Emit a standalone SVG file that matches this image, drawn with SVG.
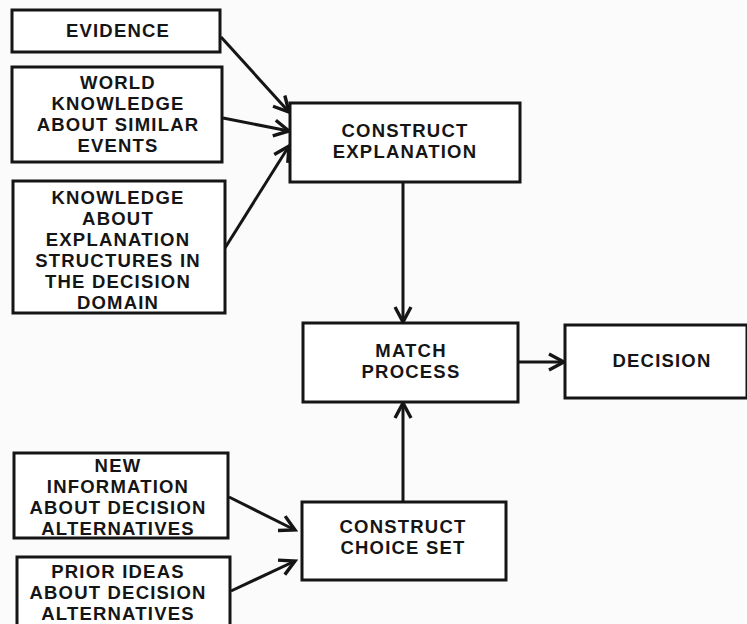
<svg xmlns="http://www.w3.org/2000/svg" width="747" height="624" viewBox="0 0 747 624">
<defs>
<style>
.box{fill:#fff;stroke:#151515;stroke-width:3}
.t{font-family:"Liberation Sans",Arial,sans-serif;font-weight:bold;font-size:18.5px;letter-spacing:1.2px;fill:#151515;text-anchor:middle}
.c{stroke:#151515;stroke-width:3;fill:none}
</style>
<marker id="ah" viewBox="0 0 20 20" refX="17" refY="10" markerWidth="20" markerHeight="20" markerUnits="userSpaceOnUse" orient="auto">
<polyline points="2,2 17,10 2,18" fill="none" stroke="#151515" stroke-width="3.4"/>
</marker>
</defs>
<rect width="747" height="624" fill="#fbfbfb"/>
<g id="connectors">
<line class="c" x1="221" y1="37" x2="289" y2="112" marker-end="url(#ah)"/>
<line class="c" x1="223" y1="118" x2="289" y2="131" marker-end="url(#ah)"/>
<line class="c" x1="225" y1="248" x2="289" y2="146" marker-end="url(#ah)"/>
<line class="c" x1="403" y1="182" x2="403" y2="322" marker-end="url(#ah)"/>
<line class="c" x1="518" y1="362" x2="564" y2="362" marker-end="url(#ah)"/>
<line class="c" x1="403" y1="502" x2="403" y2="403" marker-end="url(#ah)"/>
<line class="c" x1="229" y1="497" x2="295" y2="530" marker-end="url(#ah)"/>
<line class="c" x1="231" y1="591" x2="295" y2="561" marker-end="url(#ah)"/>
</g>
<g id="evidence">
<rect class="box" x="12" y="10" width="208" height="42"/>
<text class="t" x="118" y="37">EVIDENCE</text>
</g>
<g id="world">
<rect class="box" x="12" y="67" width="210" height="95"/>
<text class="t" x="118" y="89">WORLD</text>
<text class="t" x="118" y="110">KNOWLEDGE</text>
<text class="t" x="118" y="131">ABOUT SIMILAR</text>
<text class="t" x="118" y="152">EVENTS</text>
</g>
<g id="knowledge">
<rect class="box" x="13" y="181" width="212" height="132"/>
<text class="t" x="118" y="204">KNOWLEDGE</text>
<text class="t" x="118" y="225">ABOUT</text>
<text class="t" x="118" y="246">EXPLANATION</text>
<text class="t" x="118" y="267">STRUCTURES IN</text>
<text class="t" x="118" y="288">THE DECISION</text>
<text class="t" x="118" y="309">DOMAIN</text>
</g>
<g id="construct-explanation">
<rect class="box" x="290" y="103" width="230" height="79"/>
<text class="t" x="405" y="137">CONSTRUCT</text>
<text class="t" x="405" y="158">EXPLANATION</text>
</g>
<g id="match-process">
<rect class="box" x="303" y="323" width="215" height="79"/>
<text class="t" x="411" y="357">MATCH</text>
<text class="t" x="411" y="378">PROCESS</text>
</g>
<g id="decision">
<rect class="box" x="565" y="325" width="182" height="73"/>
<text class="t" x="662" y="367">DECISION</text>
</g>
<g id="new-information">
<rect class="box" x="14" y="453" width="214" height="85"/>
<text class="t" x="118" y="472">NEW</text>
<text class="t" x="118" y="493">INFORMATION</text>
<text class="t" x="118" y="514">ABOUT DECISION</text>
<text class="t" x="118" y="535">ALTERNATIVES</text>
</g>
<g id="prior-ideas">
<rect class="box" x="17" y="557" width="213" height="70"/>
<text class="t" x="118" y="578">PRIOR IDEAS</text>
<text class="t" x="118" y="599">ABOUT DECISION</text>
<text class="t" x="118" y="620">ALTERNATIVES</text>
</g>
<g id="construct-choice-set">
<rect class="box" x="302" y="502" width="204" height="78"/>
<text class="t" x="403" y="533">CONSTRUCT</text>
<text class="t" x="403" y="554">CHOICE SET</text>
</g>
</svg>
